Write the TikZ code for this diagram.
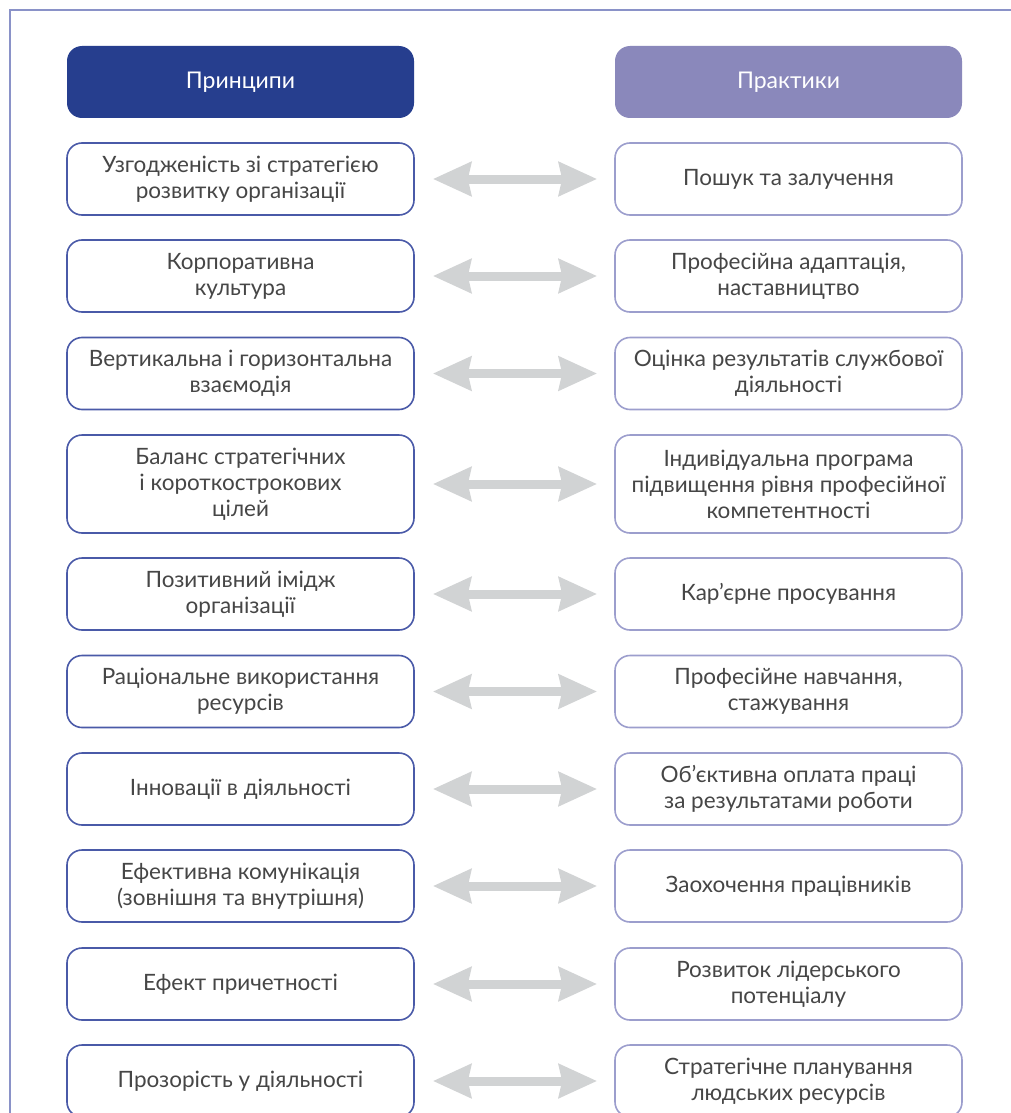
\documentclass[tikz,border=0pt]{standalone}
\usepackage{fontspec}
\setmainfont{Lato}
\usetikzlibrary{arrows.meta}
\definecolor{navy}{HTML}{263E8E}
\definecolor{lav}{HTML}{8A88BB}
\definecolor{lborder}{HTML}{4A5AA8}
\definecolor{rborder}{HTML}{9C9ECD}
\definecolor{frame}{HTML}{8A92C8}
\definecolor{arrowgray}{HTML}{D1D3D4}
\definecolor{txt}{HTML}{464646}
\begin{document}
\begin{tikzpicture}[x=1pt,y=-1pt,
  header/.style={rounded corners=15pt, minimum width=347pt, minimum height=72pt, text=white, font=\fontsize{23}{26}\selectfont, inner sep=0pt},
  lbox/.style={draw=lborder, line width=1.6pt, fill=white, rounded corners=15pt, minimum width=347pt, minimum height=72pt, text=txt, align=center, font=\fontsize{22.5}{26}\selectfont, inner sep=0pt},
  rbox/.style={lbox, draw=rborder},
  dbl/.style={arrowgray, line width=9pt, {Stealth[length=38pt,width=33pt,inset=3pt]}-{Stealth[length=38pt,width=33pt,inset=3pt]}, shorten <=18pt, shorten >=17pt}
]
\useasboundingbox (0,0) rectangle (1011,1113);
\clip (0,0) rectangle (1011,1113);
\fill[white] (0,0) rectangle (1011,1113);
\draw[frame, line width=2pt] (10,1120) -- (10,10) -- (1020,10);

\node[header, fill=navy] (hl) at (240.5,82) {Принципи};
\node[header, fill=lav] (hr) at (788.5,82) {Практики};

\node[lbox] (l1) at (240.5,179) {Узгодженість зі стратегією\\розвитку організації};
\node[lbox] (l2) at (240.5,276) {Корпоративна\\культура};
\node[lbox] (l3) at (240.5,373.5) {Вертикальна і горизонтальна\\взаємодія};
\node[lbox, minimum height=98pt] (l4) at (240.5,484) {Баланс стратегічних\\і короткострокових\\цілей};
\node[lbox] (l5) at (240.5,594) {Позитивний імідж\\організації};
\node[lbox] (l6) at (240.5,691.5) {Раціональне використання\\ресурсів};
\node[lbox] (l7) at (240.5,789) {Інновації в діяльності};
\node[lbox] (l8) at (240.5,886) {Ефективна комунікація\\(зовнішня та внутрішня)};
\node[lbox] (l9) at (240.5,984) {Ефект причетності};
\node[lbox] (l10) at (240.5,1081) {Прозорість у діяльності};

\node[rbox] (r1) at (788.5,179) {Пошук та залучення};
\node[rbox] (r2) at (788.5,276) {Професійна адаптація,\\наставництво};
\node[rbox] (r3) at (788.5,373.5) {Оцінка результатів службової\\діяльності};
\node[rbox, minimum height=98pt] (r4) at (788.5,484) {Індивідуальна програма\\підвищення рівня професійної\\компетентності};
\node[rbox] (r5) at (788.5,594) {Кар’єрне просування};
\node[rbox] (r6) at (788.5,691.5) {Професійне навчання,\\стажування};
\node[rbox] (r7) at (788.5,789) {Об’єктивна оплата праці\\за результатами роботи};
\node[rbox] (r8) at (788.5,886) {Заохочення працівників};
\node[rbox] (r9) at (788.5,984) {Розвиток лідерського\\потенціалу};
\node[rbox] (r10) at (788.5,1081) {Стратегічне планування\\людських ресурсів};

\foreach \i in {1,...,10}{
  \draw[dbl] (l\i.east) -- (r\i.west);
}
\end{tikzpicture}
\end{document}
